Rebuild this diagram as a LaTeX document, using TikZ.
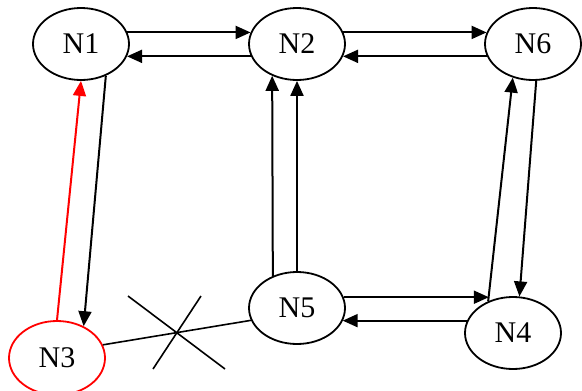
\documentclass[tikz,border=0pt]{standalone}
\usepackage{fontspec}
\setmainfont{Liberation Serif}
\usetikzlibrary{arrows.meta,shapes.geometric}
\tikzset{
  nd/.style={ellipse,draw,line width=1.8pt,minimum width=96pt,minimum height=72pt,inner sep=0pt,font=\fontsize{30}{36}\selectfont},
  arr/.style={line width=2pt,-{Triangle[length=15pt,width=13pt]}},
  plain/.style={line width=1.6pt}
}
\begin{document}
\begin{tikzpicture}[x=1pt,y=-1pt]
\clip (0,0) rectangle (582,391);
\fill[white] (0,0) rectangle (582,391);
\node[nd] (N1) at (81,44) {N1};
\node[nd] (N2) at (297,44) {N2};
\node[nd] (N6) at (533,44) {N6};
\node[nd,minimum height=74pt,draw=red] (N3) at (57,358) {N3};
\node[nd] (N5) at (297,308) {N5};
\node[nd] (N4) at (513,333) {N4};
% top row
\draw[arr] (N1.14) -- (N2.166);
\draw[arr] (N2.195) -- (N1.-15);
\draw[arr] (N2.14) -- (N6.166);
\draw[arr] (N6.195) -- (N2.-15);
% left
\draw[arr] (N1.-52) -- (N3.50);
\draw[arr,red] (N3.north) -- (N1.south);
% middle verticals
\draw[arr] (N5.127.6) -- (N2.232.4);
\draw[arr] (N5.north) -- (N2.south);
% right
\draw[arr] (N6.-85) -- (N4.80);
\draw[arr] (N4.128) -- (N6.-121.7);
% bottom row
\draw[arr] (N5.13.5) -- (N5.13.5 -| N4.127);
\draw[arr] (N4.165) -- (N4.165 -| N5.-16);
% blocked link
\draw[plain] (N3.16) -- (N5.195);
\draw[plain] (128,296) -- (225,369);
\draw[plain] (201,296) -- (153,369);
\end{tikzpicture}
\end{document}
